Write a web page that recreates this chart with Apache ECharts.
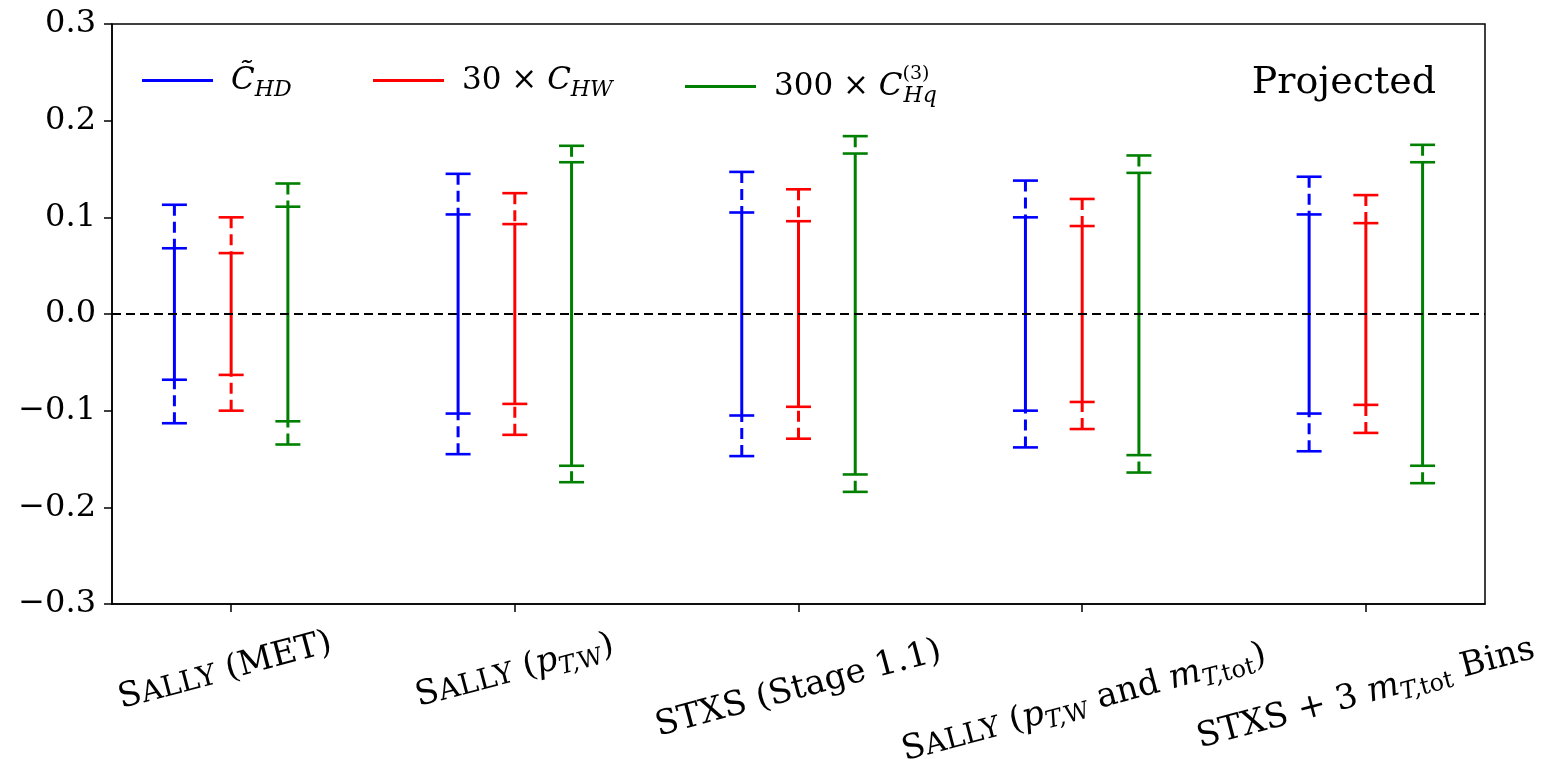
<!DOCTYPE html>
<html>
<head>
<meta charset="utf-8">
<script src="https://cdn.jsdelivr.net/npm/echarts@6/dist/echarts.min.js"></script>
<style>html,body{margin:0;padding:0;background:#fff;}#c{width:1552px;height:759px;}</style>
</head>
<body>
<div id="c"></div>
<script>
// ---- data ----
const categories = [
  'Sally (MET)',
  'Sally (pT,W)',
  'STXS (Stage 1.1)',
  'Sally (pT,W and mT,tot)',
  'STXS + 3 mT,tot Bins'
];
const seriesNames = ['CHD', 'CHW', 'CHq3'];
// inner (solid) and outer (dashed) half-widths of each interval
const chdInner = [0.068, 0.103, 0.105, 0.100, 0.103];
const chdOuter = [0.113, 0.145, 0.147, 0.138, 0.142];
const chwInner = [0.063, 0.093, 0.096, 0.091, 0.094];
const chwOuter = [0.100, 0.125, 0.129, 0.119, 0.123];
const chqInner = [0.111, 0.157, 0.166, 0.146, 0.157];
const chqOuter = [0.135, 0.174, 0.184, 0.164, 0.175];
const yTicks = [-0.3, -0.2, -0.1, 0.0, 0.1, 0.2, 0.3];

// ---- styling ----
const FONT = 'DejaVu Serif';
const colors = ['#0000ff', '#ff0000', '#008000'];
const offsets = [-0.2, 0, 0.2];
const labelBase = 67;                 // px below the axis to label centre
const labelDy = [0, 0, 18, 32, 23];   // extra drop per label (px)
const labelDx = [-6, 0, 0, 2, 0];

const richLabel = {
  S: { fontFamily: FONT, fontSize: 34, fill: '#000' },
  sc: { fontFamily: FONT, fontSize: 29, fill: '#000', padding: [4, 0, 0, 0] },
  it: { fontFamily: FONT, fontSize: 34, fontStyle: 'italic', fill: '#000' },
  sub: { fontFamily: FONT, fontSize: 24, fontStyle: 'italic', fill: '#000', padding: [18, 0, 0, 0] },
  subr: { fontFamily: FONT, fontSize: 24, fill: '#000', padding: [18, 0, 0, 0] }
};
const richCat = [
  '{S|S}{sc|ALLY} (MET)',
  '{S|S}{sc|ALLY} ({it|p}{sub|T,}{subr|W})',
  'STXS (Stage 1.1)',
  '{S|S}{sc|ALLY} ({it|p}{sub|T,}{subr|W} and {it|m}{sub|T,}{subr|tot})',
  'STXS + 3 {it|m}{sub|T,}{subr|tot} Bins'
];

const richLegend = {
  it: { fontFamily: FONT, fontSize: 31, fontStyle: 'italic', color: '#000' },
  n: { fontFamily: FONT, fontSize: 31, color: '#000' },
  sub: { fontFamily: FONT, fontSize: 22, fontStyle: 'italic', color: '#000', padding: [20, 0, 0, 0] },
  sup: { fontFamily: FONT, fontSize: 19, color: '#000', padding: [0, 0, 24, 0], width: 1 }
};
const legendText = {
  CHD: '{it|C\u0303}{sub|HD}',
  CHW: '{n|30 \u00d7 }{it|C}{sub|HW}',
  CHq3: '{n|300 \u00d7 }{it|C}{sup|(3)}{sub|Hq}'
};

const inner = [chdInner, chwInner, chqInner];
const outer = [chdOuter, chwOuter, chqOuter];

function renderItem(params, api) {
  const x = api.value(0);
  const pOL = api.coord([x, api.value(1)]);
  const pIL = api.coord([x, api.value(2)]);
  const pIH = api.coord([x, api.value(3)]);
  const pOH = api.coord([x, api.value(4)]);
  const color = api.visual('color');
  const cap = 12.5;
  const lw = 3;
  const solid = { stroke: color, lineWidth: lw };
  const dashed = { stroke: color, lineWidth: lw, lineDash: [11, 6] };
  const capLine = (p) => ({
    type: 'line',
    shape: { x1: p[0] - cap, y1: p[1], x2: p[0] + cap, y2: p[1] },
    style: { stroke: color, lineWidth: 2.6 }
  });
  return {
    type: 'group',
    children: [
      { type: 'line', shape: { x1: pOH[0], y1: pOH[1], x2: pIH[0], y2: pIH[1] }, style: dashed },
      { type: 'line', shape: { x1: pOL[0], y1: pOL[1], x2: pIL[0], y2: pIL[1] }, style: dashed },
      { type: 'line', shape: { x1: pIL[0], y1: pIL[1], x2: pIH[0], y2: pIH[1] }, style: solid },
      capLine(pOL), capLine(pIL), capLine(pIH), capLine(pOH)
    ]
  };
}

function renderLabel(params, api) {
  const i = api.value(0);
  const p = api.coord([i, yTicks[0]]);
  return {
    type: 'text',
    x: p[0] + labelDx[i],
    y: p[1] + labelBase + labelDy[i],
    rotation: Math.PI / 12,
    silent: true,
    style: {
      text: richCat[i],
      rich: richLabel,
      fontFamily: FONT,
      fontSize: 34,
      fill: '#000',
      align: 'center',
      verticalAlign: 'middle'
    }
  };
}

const series = seriesNames.map((name, s) => {
  const item = {
    name: name,
    type: 'custom',
    renderItem: renderItem,
    itemStyle: { color: colors[s] },
    encode: { x: 0, y: [1, 2, 3, 4] },
    data: categories.map((c, i) => [i + offsets[s], -outer[s][i], -inner[s][i], inner[s][i], outer[s][i]]),
    z: 3
  };
  if (s === 0) {
    item.markLine = {
      silent: true,
      symbol: ['none', 'none'],
      label: { show: false },
      lineStyle: { color: '#000', type: [9, 5], width: 2 },
      data: [{ yAxis: 0 }],
      z: 5
    };
  }
  return item;
});
series.push({
  name: 'categoryLabels',
  type: 'custom',
  renderItem: renderLabel,
  clip: false,
  silent: true,
  encode: { x: 0 },
  data: categories.map((c, i) => [i]),
  z: 4
});

const legendLefts = [142, 373, 685];
const legends = seriesNames.map((name, s) => ({
  data: [name],
  left: legendLefts[s],
  top: 65,
  padding: 0,
  icon: 'rect',
  itemWidth: 71,
  itemHeight: 3,
  selectedMode: false,
  formatter: (n) => legendText[n],
  textStyle: { fontFamily: FONT, fontSize: 31, color: '#000', padding: [0, 0, 0, 13], rich: richLegend }
}));

const chart = echarts.init(document.getElementById('c'), null, { renderer: 'canvas' });
chart.setOption({
  animation: false,
  backgroundColor: '#fff',
  title: {
    text: 'Projected',
    right: 111,
    top: 59,
    textStyle: { fontFamily: FONT, fontSize: 38, fontWeight: 'normal', color: '#000' }
  },
  legend: legends,
  grid: {
    left: 112, right: 67, top: 24, bottom: 155,
    show: true, borderColor: '#000', borderWidth: 1.5,
    containLabel: false, outerBoundsMode: 'none'
  },
  xAxis: {
    type: 'value',
    min: -0.42,
    max: 4.42,
    splitLine: { show: false },
    axisLine: { show: true, onZero: false, lineStyle: { color: '#000', width: 1.5 } },
    axisTick: { show: true, customValues: categories.map((c, i) => i), length: 8, lineStyle: { color: '#000', width: 1.5 } },
    axisLabel: { show: false }
  },
  yAxis: {
    type: 'value',
    min: yTicks[0],
    max: yTicks[yTicks.length - 1],
    interval: 0.1,
    splitLine: { show: false },
    axisLine: { show: true, onZero: false, lineStyle: { color: '#000', width: 1.5 } },
    axisTick: { show: true, length: 8, lineStyle: { color: '#000', width: 1.5 } },
    axisLabel: {
      fontFamily: FONT,
      fontSize: 32,
      color: '#000',
      margin: 16,
      formatter: function (v) {
        const a = Math.abs(v).toFixed(1);
        return (v < -1e-9 ? '\u2212' : '') + a;
      }
    }
  },
  series: series
});
</script>
</body>
</html>
